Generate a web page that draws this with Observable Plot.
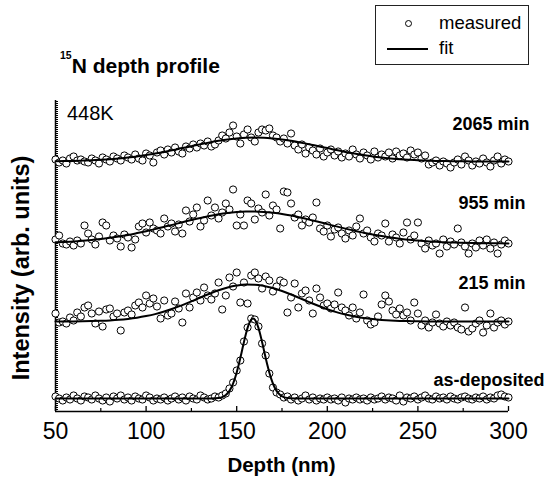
<!DOCTYPE html>
<html><head><meta charset="utf-8">
<script src="https://cdn.jsdelivr.net/npm/d3@7"></script>
<script src="https://cdn.jsdelivr.net/npm/@observablehq/plot@0.6"></script>
<style>
body{margin:0;background:#fff;font-family:"Liberation Sans",Arial,sans-serif;}
#wrap{position:relative;width:550px;height:480px;overflow:hidden;}
.abs{position:absolute;white-space:nowrap;color:#000;line-height:1;}
</style></head><body>
<div id="wrap"></div>
<script>
// ---- data ----
const depth = [
 50,52,54,56,58,60,62,64,66,68,
 70,72,74,76,78,80,82,84,86,88,
 90,92,94,96,98,100,102,104,106,108,
 110,112,114,116,118,120,122,124,126,128,
 130,132,134,136,138,140,142,144,146,148,
 150,152,154,156,158,160,162,164,166,168,
 170,172,174,176,178,180,182,184,186,188,
 190,192,194,196,198,200,202,204,206,208,
 210,212,214,216,218,220,222,224,226,228,
 230,232,234,236,238,240,242,244,246,248,
 250,252,254,256,258,260,262,264,266,268,
 270,272,274,276,278,280,282,284,286,288,
 290,292,294,296,298,300];

const measuredAsDeposited = [
 15,13,11,14,12,16,13,11,15,14,
 12,16,13,11,14,10,15,13,16,12,
 14,11,15,13,12,16,14,11,13,12,
 14,11,13,15,12,14,11,15,13,12,
 16,14,12,13,15,14,16,18,23,29,
 41,51,70,84,93,92,85,68,56,38,
 24,19,17,14,15,12,14,11,13,16,
 12,14,11,13,12,14,12,13,11,14,
 9,13,12,14,12,13,11,14,12,13,
 15,12,14,13,11,16,10,14,13,15,
 12,14,16,13,12,15,13,14,12,15,
 13,12,14,15,13,12,14,13,15,12,
 14,13,16,17,15,14];

const measured215 = [
 98,89,90,88,94,91,99,95,104,106,
 98,88,100,85,102,103,95,98,81,99,
 101,97,106,109,104,116,108,113,105,93,
 111,96,98,110,103,89,118,104,114,119,
 111,124,116,112,118,129,102,116,134,125,
 139,109,129,108,136,139,133,123,135,131,
 120,125,131,129,99,114,128,104,118,121,
 111,98,123,114,106,108,103,107,119,104,
 101,96,104,93,99,117,91,87,89,95,
 107,116,110,101,97,103,96,99,91,109,
 98,86,91,84,89,97,88,85,90,86,
 89,84,82,104,80,83,88,91,79,86,
 98,84,89,91,87,90];

const measured955 = [
 172,176,168,167,170,166,171,168,186,178,
 172,167,175,189,186,171,176,173,165,177,
 174,164,172,185,188,179,189,183,181,178,
 193,185,188,180,187,178,201,190,197,204,
 185,191,211,196,204,193,199,208,202,222,
 186,197,186,211,208,192,203,199,217,196,
 206,202,183,220,219,208,194,197,186,192,
 189,194,209,183,180,186,175,182,184,178,
 173,181,176,185,193,178,181,174,170,178,
 176,188,170,177,174,168,179,189,172,176,
 189,168,163,171,166,168,158,172,165,170,
 167,183,169,165,158,168,164,171,166,172,
 163,169,158,167,171,168];

const measured2065 = [
 252,249,251,248,253,255,251,252,250,249,
 253,251,248,254,252,250,255,253,251,256,
 254,252,257,253,251,258,256,249,259,261,
 257,262,259,264,260,258,265,263,267,264,
 268,266,270,265,267,271,276,273,279,286,
 275,268,277,282,274,270,279,282,281,283,
 276,274,270,273,268,278,266,262,267,258,
 264,261,257,263,255,259,262,256,260,254,
 258,255,262,257,253,259,256,252,260,254,
 257,255,259,253,260,256,258,254,261,257,
 259,253,256,247,249,251,246,250,248,244,
 249,252,247,255,251,246,250,248,253,249,
 245,251,255,248,252,250];

const fitDepth = [
 50,55,60,65,70,75,80,85,90,95,
 100,105,110,115,120,125,130,135,140,145,
 150,155,160,165,170,175,180,185,190,195,
 200,205,210,215,220,225,230,235,240,245,
 250,255,260,265,270,275,280,285,290,295,300];

const fit215 = [
 90.0,90.1,90.1,90.2,90.4,90.7,91.1,91.7,92.6,93.8,
 95.4,97.4,100.0,103.0,106.4,110.1,114.0,117.7,121.2,124.0,
 125.9,126.9,126.8,125.6,123.5,120.5,117.0,113.2,109.4,105.7,
 102.3,99.4,97.0,95.0,93.5,92.4,91.6,91.0,90.6,90.4,
 90.2,90.1,90.1,90.0,90.0,90.0,90.0,90.0,90.0,90.0,90.0];

const fit955 = [
 169.2,169.6,170.1,170.8,171.6,172.5,173.7,175.1,176.6,178.4,
 180.3,182.4,184.7,186.9,189.3,191.5,193.6,195.5,197.2,198.5,
 199.4,199.9,200.0,199.6,198.7,197.5,195.9,194.0,191.9,189.7,
 187.4,185.1,182.9,180.7,178.8,177.0,175.4,174.0,172.8,171.7,
 170.9,170.2,169.7,169.2,168.9,168.7,168.5,168.3,168.2,168.2,168.1];

const fit2065 = [
 250.3,250.4,250.6,250.9,251.2,251.7,252.3,253.1,254.0,255.1,
 256.5,257.9,259.6,261.4,263.4,265.3,267.3,269.1,270.7,272.1,
 273.1,273.8,274.0,273.8,273.1,272.1,270.7,269.1,267.3,265.3,
 263.4,261.4,259.6,257.9,256.5,255.1,254.0,253.1,252.3,251.7,
 251.2,250.9,250.6,250.4,250.3,250.2,250.1,250.1,250.0,250.0,250.0];

const fitDepthAsDeposited = [
 50,80,110,130,136,140,142,144,146,148,
 150,151,152,153,154,155,156,157,158,159,160,161,162,163,164,165,166,167,168,
 170,172,174,176,178,182,188,210,240,270,300];
const fitAsDeposited = [
 13,13,13,13,13.05,13.5,14.4,16.5,20.6,27.9,
 39.0,45.9,53.5,61.5,69.5,77.1,83.6,88.7,91.9,93.0,91.9,88.7,83.6,77.1,69.5,61.5,53.5,45.9,39.0,
 27.9,20.6,16.5,14.4,13.5,13.05,13,13,13,13,13];

const seriesNames = ["as-deposited", "215 min", "955 min", "2065 min"];
const xTicks = [50, 100, 150, 200, 250, 300];
const xMinorTicks = [75, 125, 175, 225, 275];

// ---- tables built from the arrays ----
const measuredBySeries = [measuredAsDeposited, measured215, measured955, measured2065];
const fitBySeries = [
  [fitDepthAsDeposited, fitAsDeposited],
  [fitDepth, fit215], [fitDepth, fit955], [fitDepth, fit2065]];

const points = [];
measuredBySeries.forEach((vals, s) => depth.forEach((d, i) => {
  if (vals[i] != null) points.push({series: seriesNames[s], depth: d, intensity: vals[i]});
}));
const fits = [];
fitBySeries.forEach(([xs, ys], s) => xs.forEach((d, i) => fits.push({series: seriesNames[s], depth: d, intensity: ys[i]})));
const ends = seriesNames.map((name, s) => {
  const [xs, ys] = fitBySeries[s];
  return {series: name, depth: xs[xs.length - 1], intensity: ys[ys.length - 1]};
});

// label offsets (layout only)
const labelOffset = {"2065 min": [-56, -37], "955 min": [-50, -40], "215 min": [-50, -38], "as-deposited": [-75, -18]};

const font = "Liberation Sans, Arial, sans-serif";
const chart = Plot.plot({
  width: 550, height: 480,
  marginLeft: 55, marginRight: 42, marginTop: 100, marginBottom: 69,
  style: {fontFamily: font, background: "white", color: "black", overflow: "visible"},
  x: {domain: [50, 300], label: null},
  y: {domain: [0, 311], label: null},
  marks: [
    Plot.axisY({ticks: 150, tickSize: -3, fill: "none", label: null, strokeWidth: 1}),
    Plot.ruleX([50], {stroke: "black", strokeWidth: 1.5}),
    Plot.ruleY([0], {stroke: "black", strokeWidth: 1.5}),
    Plot.axisX(xTicks, {tickSize: -5, fill: "none", label: null, strokeWidth: 1.3}),
    Plot.axisX(xMinorTicks, {tickSize: -3, fill: "none", label: null, strokeWidth: 1.2}),
    Plot.axisX(xTicks, {tickSize: 0, tickPadding: 11, fontSize: 23, label: null, fill: "black"}),
    Plot.dot(points, {x: "depth", y: "intensity", r: 3.6, stroke: "black", fill: "white", strokeWidth: 1}),
    Plot.line(fits, {x: "depth", y: "intensity", z: "series", curve: "monotone-x", stroke: "black", strokeWidth: 2}),
    ...ends.map(e => Plot.text([e], {
      x: "depth", y: "intensity", text: "series",
      dx: labelOffset[e.series][0], dy: labelOffset[e.series][1],
      textAnchor: "start", fontWeight: "bold", fontSize: 18, fill: "black"
    }))
  ]
});
const wrap = document.getElementById("wrap");
wrap.appendChild(chart);

function addDiv(html, style) {
  const d = document.createElement("div");
  d.className = "abs";
  d.innerHTML = html;
  Object.assign(d.style, style);
  wrap.appendChild(d);
  return d;
}
// title
addDiv('<span style="font-size:10.5px;position:relative;top:-14.5px;">15</span>N depth profile',
  {left: "60px", top: "55.2px", fontSize: "21px", fontWeight: "bold"});
// temperature
addDiv("448K", {left: "67px", top: "103px", fontSize: "20px"});
// axis titles
addDiv("Depth (nm)", {left: "281.5px", top: "454.6px", fontSize: "20.5px", fontWeight: "bold", transform: "translateX(-50%)"});
addDiv("Intensity (arb. units)", {left: "22px", top: "268px", fontSize: "23.5px", fontWeight: "bold", transform: "translate(-50%,-50%) rotate(-90deg)"});
// legend
addDiv("", {left: "375px", top: "5px", width: "152px", height: "58px", border: "1px solid #222"});
addDiv("", {left: "405px", top: "20px", width: "5px", height: "5px", border: "1px solid #000", borderRadius: "50%"});
addDiv("measured", {left: "439px", top: "14.3px", fontSize: "18.5px"});
addDiv("", {left: "387px", top: "47.7px", width: "41px", height: "2px", background: "#000"});
addDiv("fit", {left: "439px", top: "39.3px", fontSize: "18.5px"});
</script>
</body></html>
